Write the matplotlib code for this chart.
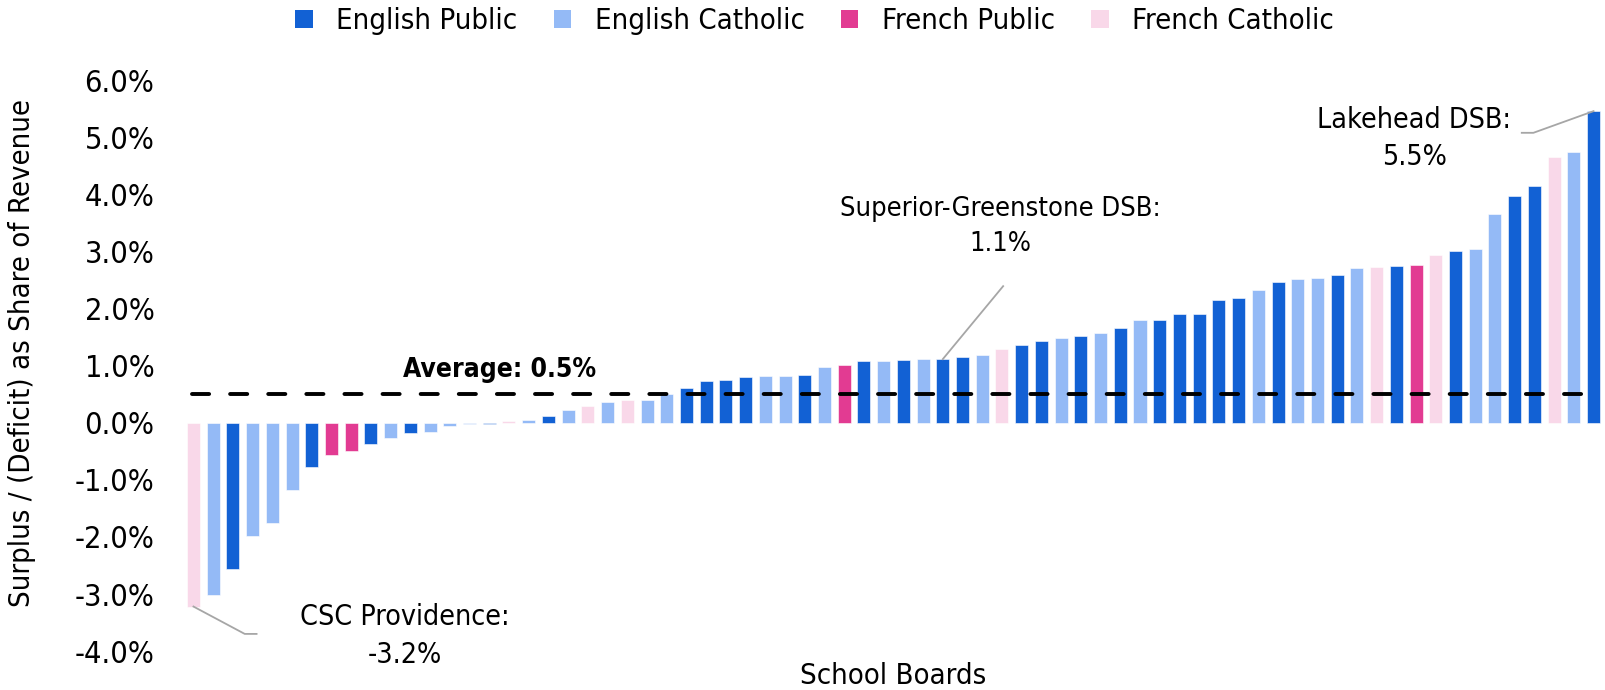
import matplotlib.pyplot as plt
from matplotlib.patches import Patch
from matplotlib.ticker import FuncFormatter

plt.rcParams["font.family"] = ["DejaVu Sans"]
plt.rcParams["font.stretch"] = "condensed"

# board type codes: EP English Public, EC English Catholic, FP French Public, FC French Catholic
board_types = [
    "FC", "EC", "EP", "EC", "EC", "EC", "EP", "FP", "FP", "EP",
    "EC", "EP", "EC", "EC", "EC", "EP", "FC", "EC", "EP", "EC",
    "FC", "EC", "FC", "EC", "EC", "EP", "EP", "EP", "EP", "EC",
    "EC", "EP", "EC", "FP", "EP", "EC", "EP", "EC", "EP", "EP",
    "EC", "FC", "EP", "EP", "EC", "EP", "EC", "EP", "EC", "EP",
    "EP", "EP", "EP", "EP", "EC", "EP", "EC", "EC", "EP", "EC",
    "FC", "EP", "FP", "FC", "EP", "EC", "EC", "EP", "EP", "FC",
    "EC", "EP",
]
surplus_pct = [
    -3.22, -3.01, -2.57, -1.98, -1.76, -1.17, -0.78, -0.56, -0.49, -0.36,
    -0.27, -0.17, -0.15, -0.05, -0.02, -0.01, 0.03, 0.06, 0.12, 0.22,
    0.29, 0.37, 0.40, 0.41, 0.50, 0.62, 0.73, 0.76, 0.81, 0.82,
    0.82, 0.84, 0.99, 1.01, 1.08, 1.08, 1.10, 1.12, 1.12, 1.16,
    1.20, 1.29, 1.37, 1.44, 1.49, 1.52, 1.57, 1.67, 1.81, 1.81,
    1.91, 1.92, 2.16, 2.19, 2.33, 2.47, 2.53, 2.54, 2.59, 2.72,
    2.74, 2.75, 2.78, 2.94, 3.01, 3.06, 3.67, 3.99, 4.16, 4.67,
    4.75, 5.47,
]
average_pct = 0.5

type_names = {
    "EP": "English Public",
    "EC": "English Catholic",
    "FP": "French Public",
    "FC": "French Catholic",
}
type_colors = {
    "EP": "#1261d4",
    "EC": "#94baf6",
    "FP": "#e23b92",
    "FC": "#f9d8e9",
}

fig = plt.figure(figsize=(16.05, 6.9), dpi=100)
ax = fig.add_axes([0.1144, 0.0565, 0.8846, 0.8262])

x = list(range(len(surplus_pct)))
colors = [type_colors[t] for t in board_types]
ax.bar(x, surplus_pct, width=0.66, color=colors, edgecolor="white", linewidth=0.4)

ax.axhline(average_pct, xmin=0.006, xmax=0.997, color="black", linewidth=2.8,
           linestyle=(0, (4.4, 5.4)), dash_capstyle="round", zorder=3)

ax.set_xlim(-0.5, len(surplus_pct) - 0.5)
ax.set_ylim(-4, 6)
ax.set_yticks(range(-4, 7))
ax.yaxis.set_major_formatter(FuncFormatter(lambda v, p: f"{v:.1f}%"))
ax.tick_params(axis="y", length=0, pad=21, labelsize=22)
ax.set_xticks([])
for s in ax.spines.values():
    s.set_visible(False)

fs = 20.5
ax.set_ylabel("Surplus / (Deficit) as Share of Revenue", fontsize=21)
ax.yaxis.set_label_coords(-0.104, 0.523)
ax.set_xlabel("School Boards", fontsize=21)
ax.xaxis.set_label_coords(0.5, -0.044)
ax.xaxis.label.set_va("center")

ax.text(15.5, 0.93, f"Average: {average_pct:.1f}%", fontsize=19, fontweight="bold",
        ha="center", va="center")

lead = dict(color="#a6a6a6", linewidth=1.3)

# CSC Providence
i = 0
ax.plot([i, 2.6, 3.2], [surplus_pct[i], -3.70, -3.70], **lead)
ax.text(10.7, -3.74, f"CSC Providence:\n{surplus_pct[i]:.1f}%", fontsize=fs,
        ha="center", va="center", linespacing=1.45)

# Superior-Greenstone DSB
i = 38
ax.plot([i, 41.06], [surplus_pct[i], 2.40], **lead)
ax.text(40.9, 3.44, f"Superior-Greenstone DSB:\n{surplus_pct[i]:.1f}%", fontsize=19.5,
        ha="center", va="center", linespacing=1.45)

# Lakehead DSB
i = 71
ax.plot([67.36, 67.95, i], [5.09, 5.09, surplus_pct[i]], **lead)
ax.text(61.9, 4.99, f"Lakehead DSB:\n{surplus_pct[i]:.1f}%", fontsize=fs,
        ha="center", va="center", linespacing=1.45)

handles = [Patch(facecolor=type_colors[k], label=type_names[k]) for k in type_names]
fig.legend(handles=handles, loc="center", bbox_to_anchor=(0.5075, 0.969), ncol=4,
           frameon=False, fontsize=21, handlelength=0.6, handleheight=0.6,
           handletextpad=0.8, columnspacing=1.25)

fig.savefig("out.png", dpi=100)
